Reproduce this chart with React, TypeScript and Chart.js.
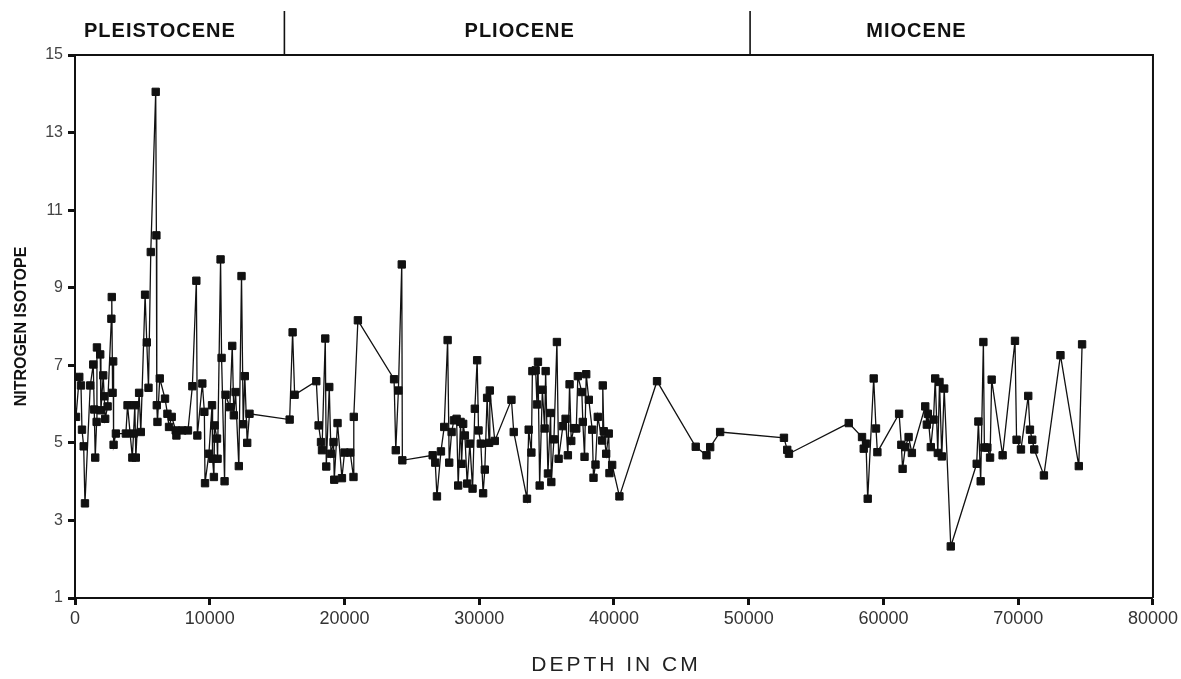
import React, { useEffect, useRef } from "react";
import { Chart, registerables } from "chart.js";

Chart.register(...registerables);

// Depth (cm) of each sample
const depthCm: number[] = [
  74, 318, 444, 518, 644, 740, 1132, 1354, 1428, 1502, 1606, 1628, 1872, 1924, 2094, 2168, 2242, 2420,
  2700, 2730, 2790, 2834, 2864, 3034, 3774, 3900, 4255, 4344, 4440, 4514, 4758, 4884, 5202, 5328, 5454,
  5624, 5990, 6040, 6070, 6120, 6290, 6682, 6860, 6978, 7178, 7474, 7526, 7970, 8384, 8710, 9006, 9080,
  9450, 9600, 9650, 9938, 10170, 10210, 10308, 10360, 10540, 10580, 10804, 10878, 11100, 11174, 11492,
  11670, 11788, 11914, 12158, 12358, 12484, 12602, 12780, 12950,
  15930, 16150, 16300, 17908, 18078, 18256, 18330, 18574, 18648, 18870, 18996, 19188, 19240, 19484,
  19810, 20002, 20424, 20668, 20690, 20994, 23680, 23806, 24000, 24250, 24294,
  26544, 26736, 26862, 27158, 27402, 27654, 27772, 27950, 28120, 28320, 28438, 28614, 28690, 28808,
  28934, 29104, 29304, 29504, 29674, 29844, 29948, 30118, 30288, 30414, 30584, 30732, 30784, 31154,
  32390, 32560, 33544, 33670, 33870, 33944, 34188, 34284, 34358, 34484, 34684, 34854, 34928, 35098,
  35298, 35350, 35542, 35764, 35890, 36208, 36408, 36578, 36704, 36830, 37022, 37200, 37318, 37614,
  37688, 37814, 37940, 38132, 38384, 38480, 38628, 38798, 39124, 39168, 39242, 39420, 39612, 39664,
  39864, 40404, 43194, 46066, 46864, 47138, 47878, 52614, 52858, 52984,
  57424, 58408, 58534, 58704, 58830, 59274, 59444, 59548, 61160, 61324, 61420, 61620, 61864, 62108,
  63100, 63218, 63292, 63514, 63714, 63840, 64032, 64158, 64328, 64506, 64994, 66918, 67044, 67214,
  67414, 67488, 67710, 67910, 68028, 68842, 69760, 69878, 70204, 70744, 70870, 71040, 71188, 71906,
  73134, 74496, 74740,
];

// Nitrogen isotope value of each sample
const nitrogenIsotope: number[] = [
  5.67, 6.7, 6.48, 5.34, 4.91, 3.44, 6.48, 7.02, 5.86, 4.62, 5.54, 7.46, 7.28, 5.84, 6.74, 6.2, 5.62, 5.94,
  8.2, 8.76, 6.29, 7.1, 4.95, 5.24, 5.24, 5.97, 4.62, 5.24, 5.97, 4.62, 6.29, 5.28, 8.82, 7.59, 6.42,
  9.92, 14.05, 10.35, 5.97, 5.54, 6.66, 6.14, 5.75, 5.41, 5.67, 5.32, 5.19, 5.32, 5.32, 6.46, 9.18, 5.19,
  6.53, 5.8, 3.96, 4.72, 5.97, 4.59, 4.12, 5.45, 5.11, 4.59, 9.73, 7.19, 4.01, 6.24, 5.92,
  7.5, 5.71, 6.31, 4.4, 9.3, 5.48, 6.72, 5.0, 5.75,
  5.6, 7.85, 6.24, 6.59, 5.45, 5.02, 4.81, 7.69, 4.39, 6.44, 4.72, 5.02, 4.05, 5.51,
  4.09, 4.75, 4.75, 4.12, 5.67, 8.16, 6.64, 4.81, 6.35, 9.6, 4.55,
  4.68, 4.49, 3.62, 4.78, 5.41, 7.65, 4.49, 5.28, 5.58, 5.62, 3.9, 5.54, 4.46, 5.49,
  5.19, 3.95, 4.98, 3.82, 5.88, 7.13, 5.32, 4.98, 3.7, 4.31, 6.16, 5.0, 6.35, 5.05,
  6.11, 5.28, 3.56, 5.34, 4.75, 6.85, 6.87, 5.99, 7.09, 3.9, 6.37, 5.37, 6.85, 4.21,
  5.77, 3.99, 5.09, 7.6, 4.59, 5.43, 5.62, 4.68, 6.51, 5.05, 5.38, 5.37, 6.72, 6.31,
  5.54, 4.64, 6.77, 6.11, 5.34, 4.1, 4.44, 5.67, 5.06, 6.48, 5.3, 4.72, 5.24, 4.22,
  4.43, 3.62, 6.59, 4.9, 4.68, 4.89, 5.28, 5.13, 4.82, 4.72,
  5.51, 5.15, 4.85, 4.98, 3.56, 6.66, 5.37, 4.76, 5.75, 4.95, 4.33, 4.89, 5.15, 4.74,
  5.94, 5.47, 5.75, 4.89, 5.6, 6.66, 4.74, 6.57, 4.65, 6.4, 2.33, 4.46, 5.55, 4.01,
  7.6, 4.88, 4.88, 4.62, 6.63, 4.68, 7.63, 5.08, 4.83, 6.21, 5.34, 5.08, 4.83, 4.16,
  7.26, 4.4, 7.54,
];

const xTicks: number[] = [0, 10000, 20000, 30000, 40000, 50000, 60000, 70000, 80000];
const yTicks: number[] = [1, 3, 5, 7, 9, 11, 13, 15];

const epochNames: string[] = ["PLEISTOCENE", "PLIOCENE", "MIOCENE"];
const epochLabelDepth: number[] = [6300, 33000, 62450];
const epochBoundaries: number[] = [15540, 50100];

const xTitle = "DEPTH IN CM";
const yTitle = "NITROGEN ISOTOPE";

const FONT = "'Liberation Sans', Arial, Helvetica, sans-serif";

const decorPlugin = {
  id: "decor",
  afterDraw(chart: any) {
    const ctx = chart.ctx as CanvasRenderingContext2D;
    const { left, right, top, bottom } = chart.chartArea;
    const xs = chart.scales.x;
    ctx.save();
    ctx.strokeStyle = "#111";
    ctx.lineWidth = 2;
    // top and right frame
    ctx.beginPath();
    ctx.moveTo(left, top);
    ctx.lineTo(right, top);
    ctx.lineTo(right, bottom);
    ctx.stroke();
    // epoch separators
    ctx.lineWidth = 1.6;
    epochBoundaries.forEach((b) => {
      const px = xs.getPixelForValue(b);
      ctx.beginPath();
      ctx.moveTo(px, 11);
      ctx.lineTo(px, top);
      ctx.stroke();
    });
    // epoch labels
    ctx.fillStyle = "#111";
    ctx.font = `bold 20px ${FONT}`;
    (ctx as any).letterSpacing = "1px";
    ctx.textAlign = "center";
    ctx.textBaseline = "middle";
    epochNames.forEach((n, i) => {
      ctx.fillText(n, xs.getPixelForValue(epochLabelDepth[i]), 31);
    });
    // x title
    ctx.font = `21px ${FONT}`;
    (ctx as any).letterSpacing = "3px";
    ctx.fillStyle = "#222";
    ctx.fillText(xTitle, (left + right) / 2 + 2, 665);
    // y title
    (ctx as any).letterSpacing = "0px";
    ctx.font = `bold 16px ${FONT}`;
    ctx.fillStyle = "#111";
    ctx.translate(22, (top + bottom) / 2);
    ctx.rotate(-Math.PI / 2);
    ctx.fillText(yTitle, 0, 0);
    ctx.restore();
  },
};

export default function App() {
  const canvasRef = useRef<HTMLCanvasElement | null>(null);

  useEffect(() => {
    const canvas = canvasRef.current;
    if (!canvas) return;
    const points = depthCm.map((d, i) => ({ x: d, y: nitrogenIsotope[i] }));
    const chart = new Chart(canvas, {
      type: "line",
      data: {
        datasets: [
          {
            data: points,
            borderColor: "#111",
            borderWidth: 1.3,
            backgroundColor: "#111",
            pointStyle: "rect",
            pointRadius: 5.2,
            pointBorderWidth: 1,
            pointBorderColor: "#111",
            pointBackgroundColor: "#111",
            tension: 0,
          },
        ],
      },
      options: {
        animation: false,
        responsive: false,
        maintainAspectRatio: false,
        layout: { padding: { top: 55, right: 26, left: 0, bottom: 0 } },
        plugins: { legend: { display: false }, tooltip: { enabled: false } },
        scales: {
          x: {
            type: "linear",
            min: 0,
            max: 80000,
            afterBuildTicks: (s: any) => {
              s.ticks = xTicks.map((v) => ({ value: v }));
            },
            afterFit: (s: any) => {
              s.height = 81;
            },
            ticks: {
              color: "#333",
              font: { family: FONT, size: 18 },
              padding: 3,
              maxRotation: 0,
              autoSkip: false,
              callback: (v: any) => String(v),
            },
            grid: {
              drawOnChartArea: false,
              drawTicks: true,
              tickLength: 7,
              tickWidth: 3,
              tickColor: "#111",
            },
            border: { display: true, color: "#111", width: 2 },
          },
          y: {
            type: "linear",
            min: 1,
            max: 15,
            afterBuildTicks: (s: any) => {
              s.ticks = yTicks.map((v) => ({ value: v }));
            },
            afterFit: (s: any) => {
              s.width = 75;
            },
            ticks: {
              color: "#444",
              font: { family: FONT, size: 16 },
              padding: 5,
              autoSkip: false,
              callback: (v: any) => String(v),
            },
            grid: {
              drawOnChartArea: false,
              drawTicks: true,
              tickLength: 7,
              tickWidth: 3,
              tickColor: "#111",
            },
            border: { display: true, color: "#111", width: 2 },
          },
        },
      },
      plugins: [decorPlugin],
    });
    return () => chart.destroy();
  }, []);

  return (
    <div style={{ position: "fixed", left: 0, top: 0, width: 1181, height: 679, background: "#fff" }}>
      <canvas ref={canvasRef} width={1181} height={679} style={{ display: "block" }} />
    </div>
  );
}
